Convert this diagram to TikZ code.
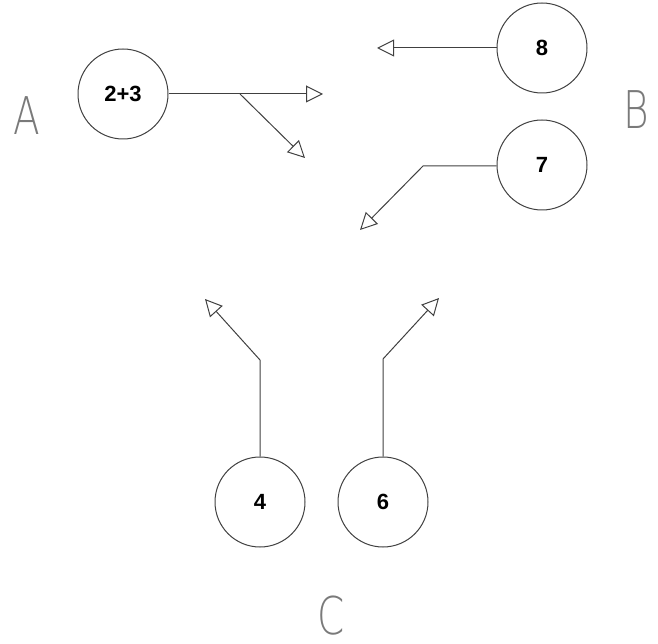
\documentclass[tikz,border=0pt]{standalone}
\usepackage{fontspec}
\setmainfont{Liberation Sans}
\newfontfamily\thinfont{DejaVu Sans ExtraLight}
\usetikzlibrary{arrows.meta}
\definecolor{linegray}{HTML}{404040}
\definecolor{lettergray}{HTML}{7A7A7A}
\tikzset{
  numcircle/.style={circle, draw=linegray, line width=1pt, minimum size=90pt, inner sep=0pt, font=\fontsize{22}{26}\selectfont\bfseries},
  conn/.style={draw=linegray, line width=1pt, -{Triangle[open, length=17pt, width=17pt]}},
  bigletter/.style={text=lettergray, font=\thinfont\fontsize{52}{60}\selectfont, xscale=0.75, inner sep=0pt}
}
\begin{document}
\begin{tikzpicture}[x=1pt, y=1pt]
\useasboundingbox (0,0) rectangle (658,-644);
% circles
\node[numcircle] (c23) at (123,-94) {2+3};
\node[numcircle] (c8) at (542,-48) {8};
\node[numcircle] (c7) at (542,-165) {7};
\node[numcircle] (c4) at (260,-502) {4};
\node[numcircle] (c6) at (383,-502) {6};
% letters
\node[bigletter] (la) at (27,-116) {A};
\node[bigletter] (lb) at (636,-110) {B};
\node[bigletter] (lc) at (331,-616) {C};
% coordinates
\coordinate (t1) at (323,-94);
\coordinate (j1) at (240,-94);
\coordinate (t2) at (305,-158);
\coordinate (t8) at (377,-48);
\coordinate (b7) at (423,-166);
\coordinate (t7) at (360,-230);
\coordinate (b4) at (260,-360);
\coordinate (t4) at (205,-299);
\coordinate (b6) at (383,-359);
\coordinate (t6) at (439,-298);
% connectors
\draw[conn] (c23.east) -- (t1);
\draw[conn] (j1) -- (t2);
\draw[conn] (c8.west) -- (t8);
\draw[conn] (c7.west |- b7) -- (b7) -- (t7);
\draw[conn] (c4.north) -- (b4) -- (t4);
\draw[conn] (c6.north) -- (b6) -- (t6);
\end{tikzpicture}
\end{document}
